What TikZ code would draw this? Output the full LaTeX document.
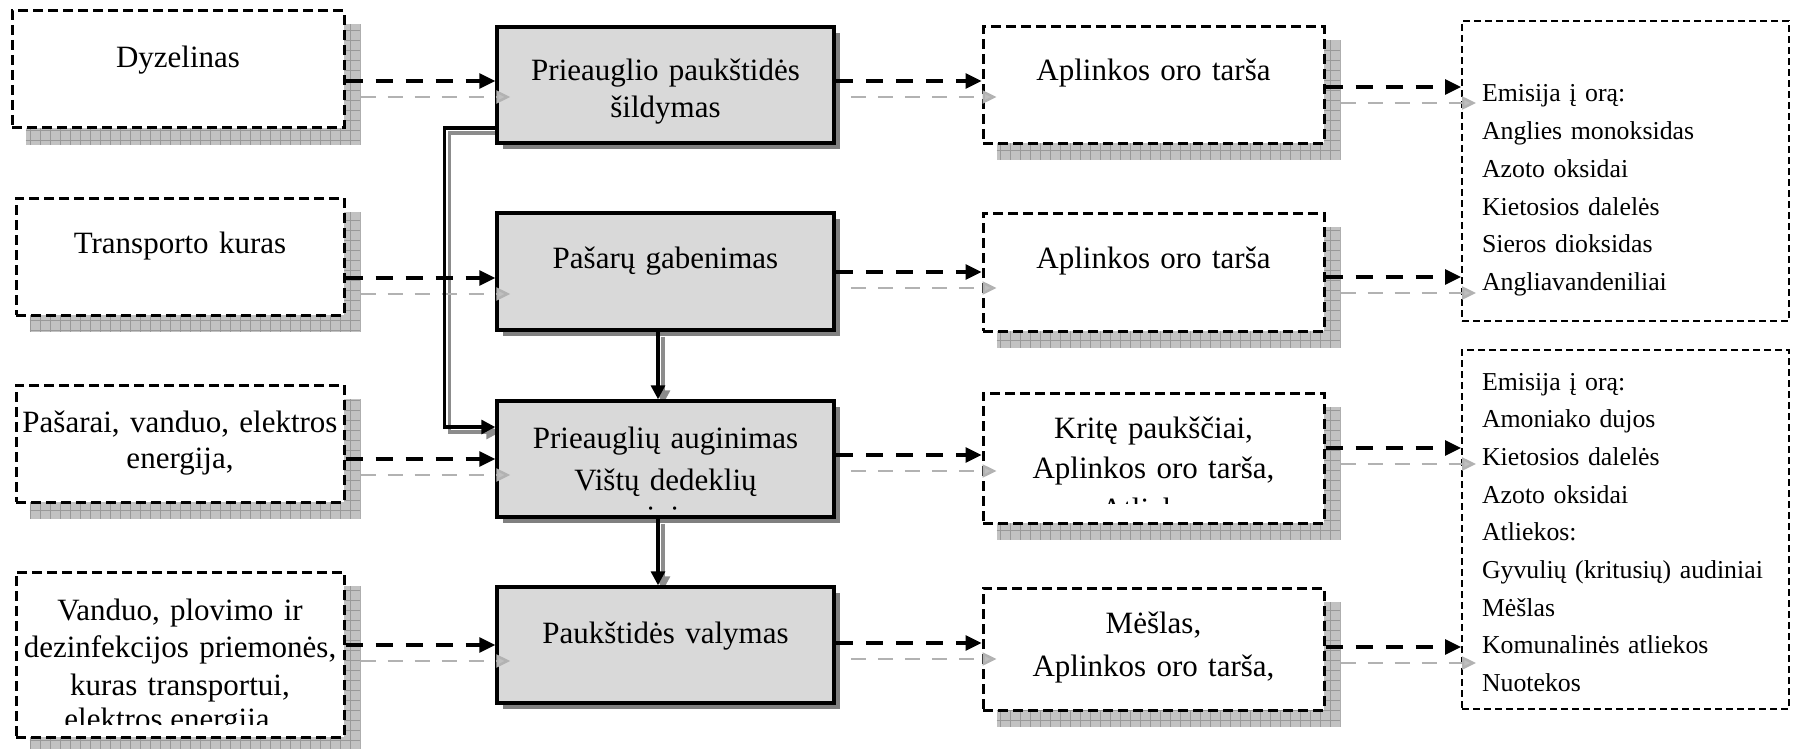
\documentclass[tikz,border=0pt]{standalone}
\usepackage{fontspec}
\setmainfont{Liberation Serif}
\usetikzlibrary{arrows.meta,shadows,backgrounds,calc}
\newcommand\bigtxt{\fontsize{15.5}{18.5}\selectfont}
\newcommand\listtxt{\fontsize{12.9}{18.85}\selectfont}
\tikzset{
  inbox/.style={draw,line width=1.5pt,dash pattern=on 5pt off 2.5pt,fill=white,inner sep=0pt,align=center,font=\bigtxt},
  procbox/.style={draw,line width=1.75pt,fill=black!15,inner sep=0pt,align=center,font=\bigtxt,minimum width=168.5pt,text width=162pt,
    drop shadow={shadow xshift=3pt,shadow yshift=-3pt,fill=black!50,opacity=1}},
  listbox/.style={draw,line width=1pt,dash pattern=on 3.5pt off 2pt,inner xsep=10pt,inner ysep=0pt,align=left,font=\listtxt,text width=143.5pt},
  flow/.style={line width=1.6pt,dash pattern=on 8.5pt off 6.5pt,-{Triangle[length=8pt,width=7.5pt]}},
  flowshade/.style={draw=black!30,line width=1.2pt,dash pattern=on 7.5pt off 6pt,-{Triangle[length=7pt,width=6.5pt,fill=black!25]},transform canvas={shift={(15,16)}}},
  link/.style={line width=1.6pt,-{Triangle[length=7pt,width=7pt]}},
  linkshade/.style={draw=black!45,line width=1.6pt,-{Triangle[length=7pt,width=7pt]},transform canvas={shift={(5,5)}}}
}
\begin{document}
\begin{tikzpicture}[x=0.5pt,y=-0.5pt]
\useasboundingbox (0,0) rectangle (1798,749);
\def\sh{15}
\node[inbox,minimum width=166pt,text width=160pt,text height=28.5pt,text depth=30pt] (dyz) at (178,69.5) {Dyzelinas};
\node[inbox,minimum width=164pt,text width=160pt,text height=27.5pt,text depth=31pt] (fuel) at (180,256.5) {Transporto kuras};
\node[inbox,minimum width=164pt,text width=160pt,text height=23.5pt,text depth=35pt,font=\fontsize{15.5}{18}\selectfont] (feed) at (180,443.5) {Pašarai, vanduo, elektros\\ energija,};
\node[inbox,minimum width=164pt,text width=160pt,text height=24pt,text depth=58.5pt,font=\fontsize{15.5}{18.75}\selectfont] (wash) at (180,654.5) {Vanduo, plovimo ir\\ dezinfekcijos priemonės,\\ kuras transportui,};
\node[procbox,text height=27pt,text depth=31pt] (heat) at (665.5,85) {Prieauglio paukštidės\\ šildymas};
\node[procbox,text height=27.5pt,text depth=31pt] (haul) at (665.5,271.5) {Pašarų gabenimas};
\node[procbox,text height=23.5pt,text depth=34.5pt,font=\fontsize{15.5}{21}\selectfont] (rear) at (665.5,459) {Prieauglių auginimas\\ Vištų dedeklių};
\node[procbox,text height=28pt,text depth=30pt] (clean) at (665.5,645) {Paukštidės valymas};
\node[inbox,minimum width=170.5pt,text width=164pt,text height=27pt,text depth=31pt] (air1) at (1153.5,85) {Aplinkos oro tarša};
\node[inbox,minimum width=170.5pt,text width=164pt,text height=27.5pt,text depth=31.5pt] (air2) at (1153.5,272) {Aplinkos oro tarša};
\node[inbox,minimum width=170.5pt,text width=164pt,text height=22.5pt,text depth=42.5pt,font=\fontsize{15.5}{20.25}\selectfont] (waste3) at (1153.5,458) {Kritę paukščiai,\\ Aplinkos oro tarša,};
\node[inbox,minimum width=170.5pt,text width=164pt,text height=22.5pt,text depth=38.5pt,font=\fontsize{15.5}{21.5}\selectfont] (waste4) at (1153.5,649) {Mėšlas,\\ Aplinkos oro tarša,};
\node[listbox,text height=40.5pt,text depth=109.5pt] (emA) at (1625.5,171) {Emisija į orą:\\ Anglies monoksidas\\ Azoto oksidai\\ Kietosios dalelės\\ Sieros dioksidas\\ Angliavandeniliai};
\node[listbox,text height=20pt,text depth=159.5pt] (emB) at (1625.5,529.5) {Emisija į orą:\\ Amoniako dujos\\ Kietosios dalelės\\ Azoto oksidai\\ Atliekos:\\ Gyvulių (kritusių) audiniai\\ Mėšlas\\ Komunalinės atliekos\\ Nuotekos};
\begin{scope}
\clip (wash.north west) rectangle (wash.east |- 0,724);
\node[font=\bigtxt,anchor=base,inner sep=0pt] (washend) at (167,729) {elektros energija};
\end{scope}
\begin{scope}
\clip (rear.north west) rectangle (rear.east |- 0,510);
\node[font=\bigtxt,anchor=base,inner sep=0pt] (rearend) at (665.5,527) {auginimas};
\end{scope}
\begin{scope}
\clip (waste3.north west) rectangle (waste3.east |- 0,503);
\node[font=\bigtxt,anchor=base,inner sep=0pt] (wasteend) at (1153.5,519) {Atliekos};
\end{scope}
\begin{scope}[on background layer]
\foreach \n in {dyz,fuel,feed,wash,air1,air2,waste3,waste4}{
  \begin{scope}
  \clip ([shift={(\sh,\sh)}]\n.north west) rectangle ([shift={(\sh,\sh)}]\n.south east);
  \fill[black!24] ([shift={(\sh,\sh)}]\n.north west) rectangle ([shift={(\sh,\sh)}]\n.south east);
  \draw[black!40,line width=0.35pt,step=5pt] ([shift={(\sh,\sh)}]\n.north west) grid ([shift={(\sh,\sh)}]\n.south east);
  \end{scope}
}
\draw[linkshade] (heat.west |- 0,128) -- ++(-51,0) |- (rear.west |- 0,427);
\draw[linkshade] ([xshift=-3.75pt]haul.south) -- ([xshift=-3.75pt]rear.north);
\draw[linkshade] ([xshift=-3.75pt]rear.south) -- ([xshift=-3.75pt]clean.north);
\end{scope}
\def\flows{dyz/heat/81,fuel/haul/278,feed/rear/459,wash/clean/645,heat/air1/81,haul/air2/272,rear/waste3/455,clean/waste4/643,air1/emA/87,air2/emA/277,waste3/emB/448,waste4/emB/647}
\foreach \a/\b/\y in \flows{
  \draw[flowshade] (\a.east |- 0,\y) -- (\b.west |- 0,\y);
}
\foreach \a/\b/\y in \flows{
  \draw[flow] (\a.east |- 0,\y) -- (\b.west |- 0,\y);
}
\draw[link] (heat.west |- 0,128) -- ++(-51,0) |- (rear.west |- 0,427);
\draw[link] ([xshift=-3.75pt]haul.south) -- ([xshift=-3.75pt]rear.north);
\draw[link] ([xshift=-3.75pt]rear.south) -- ([xshift=-3.75pt]clean.north);
\end{tikzpicture}
\end{document}
